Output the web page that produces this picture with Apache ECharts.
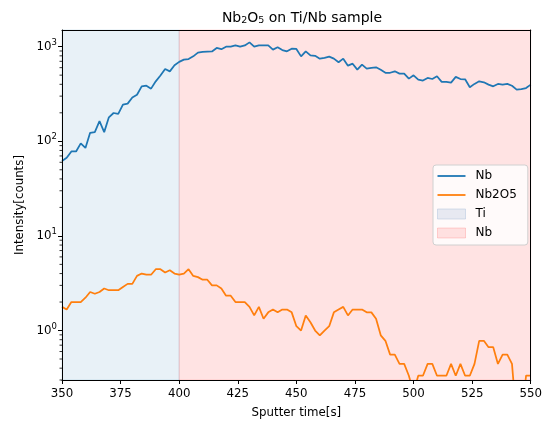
<!DOCTYPE html>
<html>
<head>
<meta charset="utf-8">
<script src="https://cdn.jsdelivr.net/npm/echarts@6/dist/echarts.min.js"></script>
<style>html,body{margin:0;padding:0;background:#fff}#c{width:545px;height:425px}</style>
</head>
<body>
<div id="c"></div>
<script>
// Sputter time [s]
const times = [];
for (let t = 350; t <= 550; t += 2) times.push(t);

// Nb intensity (counts)
const nbValues = [
  62, 67, 78, 78, 95, 85, 123, 125, 163, 125,
  179, 199, 195, 244, 250, 290, 310, 380, 387, 360,
  430, 495, 580, 548, 635, 690, 729, 740, 790, 864,
  880, 885, 890, 969, 940, 1000, 1000, 1030, 1000, 1030,
  1110, 1000, 1030, 1030, 1030, 930, 985, 920, 892, 953,
  945, 790, 892, 810, 800, 747, 760, 785, 747, 684,
  747, 630, 661, 572, 646, 586, 596, 605, 570, 530,
  530, 549, 519, 519, 459, 498, 448, 438, 467, 455,
  486, 424, 424, 417, 479, 455, 452, 373, 404, 430,
  420, 397, 381, 404, 397, 404, 386, 352, 355, 365,
  397
];

// Nb2O5 intensity (counts)
const nb2o5Values = [
  1.778, 1.667, 2.0, 2.0, 2.0, 2.222, 2.556, 2.444, 2.556, 2.778,
  2.667, 2.667, 2.667, 2.889, 3.111, 3.111, 3.778, 4.0, 3.889, 3.889,
  4.444, 4.444, 4.111, 4.333, 4.0, 3.889, 4.0, 4.444, 3.778, 3.667,
  3.444, 3.444, 3.0, 3.0, 2.778, 2.333, 2.333, 2.0, 2.0, 2.0,
  1.778, 1.444, 1.778, 1.333, 1.556, 1.667, 1.556, 1.667, 1.667, 1.556,
  1.111, 1.0, 1.444, 1.222, 1.0, 0.889, 1.0, 1.111, 1.556, 1.667,
  1.778, 1.444, 1.667, 1.667, 1.667, 1.556, 1.556, 1.333, 0.889, 0.778,
  0.556, 0.556, 0.444, 0.444, 0.333, 0.222, 0.333, 0.333, 0.444, 0.444,
  0.333, 0.333, 0.333, 0.444, 0.333, 0.444, 0.333, 0.333, 0.444, 0.778,
  0.778, 0.667, 0.667, 0.444, 0.556, 0.556, 0.444, 0.111, 0.111, 0.333,
  0.333
];

// Shaded substrate regions [start, end]
const tiRegion = [350, 400];
const nbRegion = [400, 550];

// Axis ticks
const xTicks = [350, 375, 400, 425, 450, 475, 500, 525, 550];
const yMinorTicks = [0.3, 0.4, 0.5, 0.6, 0.7, 0.8, 0.9,
  2, 3, 4, 5, 6, 7, 8, 9, 20, 30, 40, 50, 60, 70, 80, 90,
  200, 300, 400, 500, 600, 700, 800, 900];

const FONT = 'DejaVu Sans';
const chart = echarts.init(document.getElementById('c'), null, {renderer: 'canvas'});

const pair = (xs, ys) => xs.map((x, i) => [x, ys[i]]);
const LINE_ICON = 'path://M0,0L28,0L28,1.8L0,1.8Z';

const option = {
  animation: false,
  backgroundColor: '#fff',
  textStyle: {fontFamily: FONT},
  title: {
    text: 'Nb{sub|2}O{sub|5} on Ti/Nb sample',
    left: 297, top: 5, textAlign: 'center',
    textStyle: {
      fontFamily: FONT, fontSize: 14, fontWeight: 'normal', color: '#000',
      rich: {sub: {fontFamily: FONT, fontSize: 9.5, color: '#000', padding: [6, 0, 0, 0]}}
    }
  },
  grid: {left: 62, right: 13, top: 30, bottom: 45},
  legend: {
    orient: 'vertical', left: 433, top: 165,
    padding: [5, 11, 6, 4], itemGap: 7,
    itemWidth: 28, itemHeight: 10, symbolKeepAspect: true,
    backgroundColor: 'rgba(255,255,255,0.8)', borderColor: '#d0d0d0', borderWidth: 1, borderRadius: 3,
    textStyle: {fontFamily: FONT, fontSize: 12, color: '#000', padding: [0, 0, 0, 5]},
    data: [
      {name: 'Nb', icon: LINE_ICON, itemStyle: {color: '#1f77b4'}},
      {name: 'Nb2O5', icon: LINE_ICON, itemStyle: {color: '#ff7f0e'}},
      {name: 'Ti', icon: 'rect', itemStyle: {color: 'rgba(176,196,222,0.3)', borderColor: 'rgba(176,196,222,0.5)', borderWidth: 1}},
      {name: 'Nb ', icon: 'rect', itemStyle: {color: 'rgba(255,0,0,0.1)', borderColor: 'rgba(255,0,0,0.15)', borderWidth: 1}}
    ]
  },
  xAxis: [{
    type: 'value', min: 350, max: 550, interval: 25, z: 10,
    name: 'Sputter time[s]', nameLocation: 'middle', nameGap: 27,
    nameTextStyle: {fontFamily: FONT, fontSize: 11.8, color: '#000'},
    axisLine: {lineStyle: {color: '#000', width: 1}},
    axisTick: {length: 4, lineStyle: {color: '#000'}},
    axisLabel: {fontFamily: FONT, fontSize: 11.8, color: '#000', margin: 8,
      formatter: v => xTicks.includes(v) ? String(v) : ''},
    splitLine: {show: false}
  }, {
    type: 'value', position: 'top', min: 350, max: 550, z: 10,
    axisLine: {onZero: false, lineStyle: {color: '#000', width: 1}},
    axisTick: {show: false}, axisLabel: {show: false}, splitLine: {show: false}
  }],
  yAxis: [{
    type: 'log', logBase: 10, min: 0.3, max: 1500, z: 10,
    name: 'Intensity[counts]', nameLocation: 'middle', nameGap: 36,
    nameTextStyle: {fontFamily: FONT, fontSize: 11.8, color: '#000'},
    axisLine: {show: true, lineStyle: {color: '#000', width: 1}},
    axisTick: {length: 4, lineStyle: {color: '#000'}},
    axisLabel: {
      fontFamily: FONT, fontSize: 11.8, color: '#000', margin: 5,
      showMinLabel: false, showMaxLabel: false,
      formatter: v => {
        const e = Math.log10(v);
        if (Math.abs(e - Math.round(e)) > 1e-6) return '';
        return '10{sup|' + Math.round(e) + '}';
      },
      rich: {sup: {fontFamily: FONT, fontSize: 8.5, color: '#000', padding: [0, 0, 8, 0]}}
    },
    splitLine: {show: false}
  }, {
    type: 'value', position: 'right', min: 0, max: 1, z: 10,
    axisLine: {show: true, onZero: false, lineStyle: {color: '#000', width: 1}},
    axisTick: {show: false}, axisLabel: {show: false}, splitLine: {show: false}
  }],
  series: [
    {
      name: 'Ti', type: 'line', data: [], silent: true, color: 'rgba(176,196,222,0.3)',
      markArea: {silent: true, itemStyle: {color: 'rgba(31,119,180,0.1)', borderColor: 'rgba(31,119,180,0.15)', borderWidth: 1},
        data: [[{xAxis: tiRegion[0]}, {xAxis: tiRegion[1]}]]}
    },
    {
      name: 'Nb ', type: 'line', data: [], silent: true, color: 'rgba(255,0,0,0.1)',
      markArea: {silent: true, itemStyle: {color: 'rgba(255,0,0,0.11)', borderColor: 'rgba(255,0,0,0.13)', borderWidth: 1},
        data: [[{xAxis: nbRegion[0]}, {xAxis: nbRegion[1]}]]}
    },
    {
      name: 'Nb', type: 'line', data: pair(times, nbValues), color: '#1f77b4',
      symbol: 'none', showSymbol: false, lineStyle: {width: 1.75}, clip: true, z: 5
    },
    {
      name: 'Nb2O5', type: 'line', data: pair(times, nb2o5Values), color: '#ff7f0e',
      symbol: 'none', showSymbol: false, lineStyle: {width: 1.75}, clip: true, z: 5
    },
    {
      name: 'minorTicks', type: 'custom', silent: true, clip: false, z: 10,
      data: yMinorTicks.map(v => [350, v]),
      encode: {x: 0, y: 1},
      renderItem: (params, api) => {
        const p = api.coord([api.value(0), api.value(1)]);
        return {type: 'line', shape: {x1: p[0] - 2.5, y1: p[1], x2: p[0], y2: p[1]},
          style: {stroke: '#000', lineWidth: 0.8}};
      }
    }
  ]
};
chart.setOption(option);
</script>
</body>
</html>
